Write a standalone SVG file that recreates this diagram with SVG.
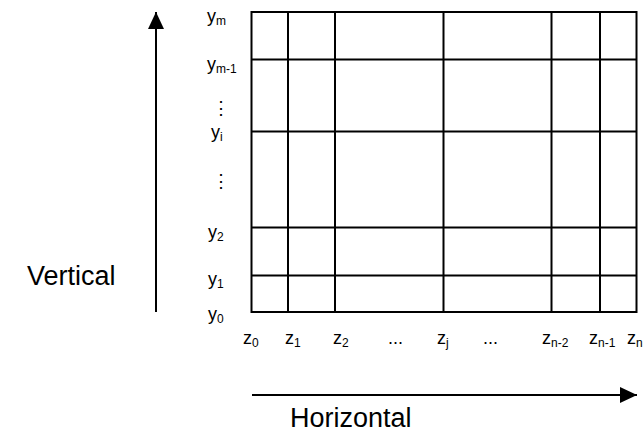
<svg xmlns="http://www.w3.org/2000/svg" width="644" height="438" viewBox="0 0 644 438">
<style>
.g{stroke:#000;stroke-width:2;fill:none}
.t{font-family:"Liberation Sans",Arial,sans-serif;font-size:18px;fill:#000}
.s{font-size:12px}
.big{font-family:"Liberation Sans",Arial,sans-serif;font-size:27px;fill:#000}
</style>
<defs>
<marker id="ah" viewBox="0 0 17 16" refX="17" refY="8" markerWidth="17" markerHeight="16" markerUnits="userSpaceOnUse" orient="auto">
<path d="M0,0 L17,8 L0,16 Z" fill="#000"/>
</marker>
</defs>
<g id="grid">
<rect class="g" x="251.5" y="12" width="385" height="300"/>
<path class="g" d="M288,12V312 M335,12V312 M443.5,12V312 M551.5,12V312 M600,12V312"/>
<path class="g" d="M251.5,59.5H636.5 M251.5,131.5H636.5 M251.5,227.5H636.5 M251.5,275.5H636.5"/>
</g>
<g id="y-labels" class="t">
<text x="207" y="22">y<tspan class="s" dy="3">m</tspan></text>
<text x="207" y="70">y<tspan class="s" dy="3">m-1</tspan></text>
<text x="212" y="114">⋮</text>
<text x="211" y="138">y<tspan class="s" dy="3">i</tspan></text>
<text x="212" y="187">⋮</text>
<text x="208" y="238">y<tspan class="s" dy="3">2</tspan></text>
<text x="208" y="285">y<tspan class="s" dy="3">1</tspan></text>
<text x="208" y="320">y<tspan class="s" dy="3">0</tspan></text>
</g>
<g id="z-labels" class="t">
<text x="243" y="344">z<tspan class="s" dy="3">0</tspan></text>
<text x="285" y="344">z<tspan class="s" dy="3">1</tspan></text>
<text x="333" y="344">z<tspan class="s" dy="3">2</tspan></text>
<text x="388" y="344">...</text>
<text x="437" y="344">z<tspan class="s" dy="3">j</tspan></text>
<text x="483" y="344">...</text>
<text x="542" y="344">z<tspan class="s" dy="3">n-2</tspan></text>
<text x="589" y="344">z<tspan class="s" dy="3">n-1</tspan></text>
<text x="627" y="344">z<tspan class="s" dy="3">n</tspan></text>
</g>
<g id="connectors">
<line class="g" x1="156" y1="312" x2="156" y2="12" marker-end="url(#ah)"/>
<line class="g" x1="252" y1="395" x2="637" y2="395" marker-end="url(#ah)"/>
</g>
<g id="axis-labels">
<text class="big" x="27" y="285">Vertical</text>
<text class="big" x="290" y="427">Horizontal</text>
</g>
</svg>
